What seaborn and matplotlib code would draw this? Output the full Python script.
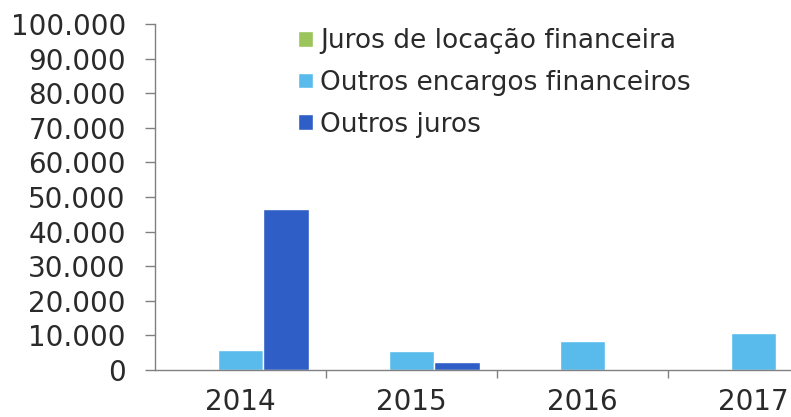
import pandas as pd
import seaborn as sns
import matplotlib.pyplot as plt
import matplotlib.ticker as ticker

# dados
anos = ['2014', '2015', '2016', '2017']
series = ['Juros de locação financeira', 'Outros encargos financeiros', 'Outros juros']
juros_locacao = [0, 0, 0, 0]
outros_encargos = [5700, 5400, 8500, 10700]
outros_juros = [46500, 2200, 0, 0]
cores = ['#9bc45a', '#58bbec', '#2f5ec6']

df = pd.DataFrame({
    'ano': anos * 3,
    'serie': [series[0]] * 4 + [series[1]] * 4 + [series[2]] * 4,
    'valor': juros_locacao + outros_encargos + outros_juros,
})

sns.set_style("white")
plt.rcParams['font.family'] = ['DejaVu Sans']

fig = plt.figure(figsize=(7.91, 4.17), dpi=100)
ax = fig.add_axes([0.196, 0.1127, 0.804, 0.8297])

sns.barplot(data=df, x='ano', y='valor', hue='serie', palette=cores,
            saturation=1, width=0.8, ax=ax)

ax.set_ylim(0, 100000)
ax.set_xlim(-0.5, 3.22)
ax.yaxis.set_major_locator(ticker.MultipleLocator(10000))
ax.yaxis.set_major_formatter(ticker.FuncFormatter(lambda v, p: f"{v:,.0f}".replace(",", ".")))
ax.set_xlabel('')
ax.set_ylabel('')

for s in ['top', 'right']:
    ax.spines[s].set_visible(False)
for s in ['left', 'bottom']:
    ax.spines[s].set_color('#808080')
    ax.spines[s].set_linewidth(1)

ax.tick_params(axis='y', which='major', length=7, width=1, color='#808080',
               labelsize=20, pad=14, left=True, labelcolor='#2a2a2a')
ax.tick_params(axis='x', which='major', length=0, labelsize=20, pad=13, labelcolor='#2a2a2a')
ax.xaxis.set_minor_locator(ticker.FixedLocator([0.5, 1.5, 2.5]))
ax.tick_params(axis='x', which='minor', length=6, width=1, color='#808080', bottom=True)

handles, labels = ax.get_legend_handles_labels()
ax.legend(handles, labels, loc='upper left', bbox_to_anchor=(298 / 791, 1 - 28 / 417),
          bbox_transform=fig.transFigure, frameon=False, fontsize=19,
          handlelength=0.55, handleheight=0.55, handletextpad=0.3,
          labelspacing=0.6, borderpad=0, borderaxespad=0, labelcolor='#2a2a2a')

plt.savefig('out.png', dpi=100)
